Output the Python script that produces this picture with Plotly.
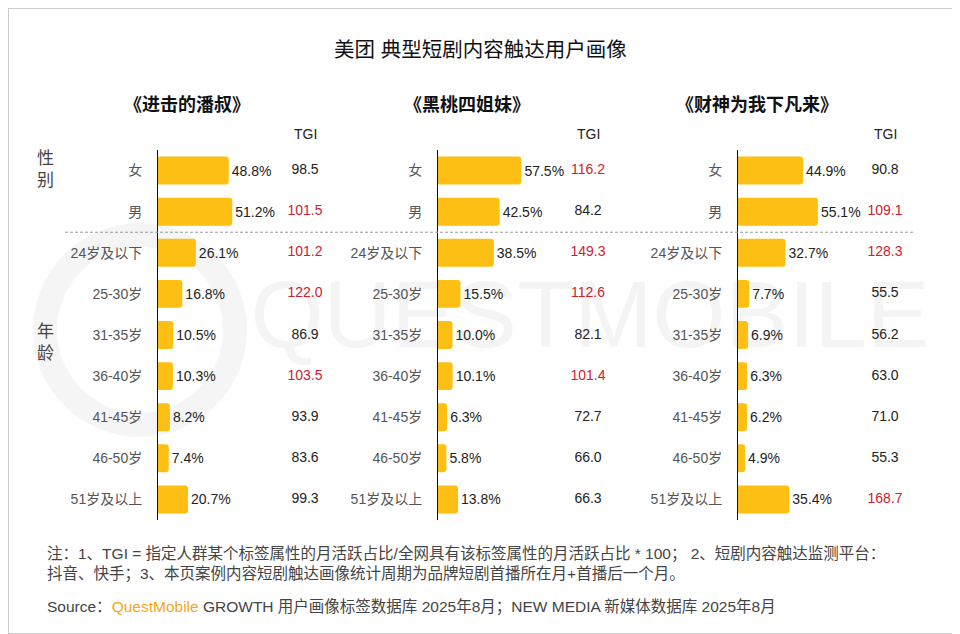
import plotly.graph_objects as go
from plotly.subplots import make_subplots

categories = ['女', '男', '24岁及以下', '25-30岁', '31-35岁', '36-40岁', '41-45岁', '46-50岁', '51岁及以上']
titles = ['《进击的潘叔》', '《黑桃四姐妹》', '《财神为我下凡来》']

pct_1 = [48.8, 51.2, 26.1, 16.8, 10.5, 10.3, 8.2, 7.4, 20.7]
pct_2 = [57.5, 42.5, 38.5, 15.5, 10.0, 10.1, 6.3, 5.8, 13.8]
pct_3 = [44.9, 55.1, 32.7, 7.7, 6.9, 6.3, 6.2, 4.9, 35.4]

tgi_1 = [98.5, 101.5, 101.2, 122.0, 86.9, 103.5, 93.9, 83.6, 99.3]
tgi_2 = [116.2, 84.2, 149.3, 112.6, 82.1, 101.4, 72.7, 66.0, 66.3]
tgi_3 = [90.8, 109.1, 128.3, 55.5, 56.2, 63.0, 71.0, 55.3, 168.7]

FONT = 'Liberation Sans, Noto Sans CJK SC'

# page body has an 8px margin, so the figure is shrunk by that and
# all positions below are given in window pixels and converted
OFF = 8
W, H = 960 - OFF, 634 - OFF


def fx(px):
    return (px - OFF) / W


def fy(py):
    return 1 - (py - OFF) / H


# panel geometry (window pixels)
axis_px = [158, 438, 738]
tgi_px = [305, 588, 885]
title_px = [187, 467, 757]
panel_w = 172
scale = 1.45  # px per percent
xmax = panel_w / scale

fig = make_subplots(rows=1, cols=3, horizontal_spacing=0.05)

for i, (pct, tgi) in enumerate([(pct_1, tgi_1), (pct_2, tgi_2), (pct_3, tgi_3)]):
    col = i + 1
    fig.add_trace(go.Bar(
        x=pct, y=categories, orientation='h',
        marker=dict(color='#FDBF14', line=dict(width=0)),
        text=[f'{v:.1f}%' for v in pct], textposition='outside',
        textfont=dict(size=14, color='#222222', family=FONT),
        cliponaxis=False, width=0.68, showlegend=False,
    ), row=1, col=col)
    tx = (tgi_px[i] - axis_px[i]) / scale
    fig.add_trace(go.Scatter(
        x=[tx] * len(categories), y=categories, mode='text',
        text=[f'{v:.1f}' for v in tgi],
        textfont=dict(size=14, family=FONT,
                      color=['#D0202E' if v > 100 else '#222222' for v in tgi]),
        cliponaxis=False, showlegend=False, hoverinfo='skip',
    ), row=1, col=col)

    xa = 'xaxis' if col == 1 else f'xaxis{col}'
    ya = 'yaxis' if col == 1 else f'yaxis{col}'
    fig.layout[xa].update(domain=[fx(axis_px[i]), fx(axis_px[i] + panel_w)], range=[0, xmax],
                          visible=False, fixedrange=True)
    fig.layout[ya].update(domain=[fy(520), fy(150)], categoryorder='array',
                          categoryarray=categories, autorange='reversed',
                          showline=True, linecolor='#111111', linewidth=1,
                          showgrid=False, zeroline=False, ticks='',
                          ticklabelstandoff=12,
                          tickfont=dict(size=14, color='#555555', family=FONT))

    fig.add_annotation(x=fx(title_px[i]), y=fy(105), xref='paper', yref='paper',
                       text=f'<b>{titles[i]}</b>', showarrow=False,
                       xanchor='center', yanchor='middle',
                       font=dict(size=18, color='#111111', family=FONT))
    fig.add_annotation(x=fx(tgi_px[i]), y=fy(134), xref='paper', yref='paper', text='TGI',
                       showarrow=False, xanchor='center', yanchor='middle',
                       font=dict(size=14, color='#222222', family=FONT))

# watermark (kept in the shape layer below the bars)
fig.add_shape(type='circle', xref='paper', yref='paper', layer='below',
              x0=fx(45), x1=fx(235), y0=fy(425), y1=fy(235),
              line=dict(color='#F5F5F5', width=24))
fig.add_shape(type='rect', xref='paper', yref='paper', layer='below',
              x0=fx(260), x1=fx(920), y0=fy(345), y1=fy(265),
              line=dict(width=0), fillcolor='rgba(0,0,0,0)',
              label=dict(text='QUESTMOBILE', textposition='middle center',
                         font=dict(size=94, color='#F4F4F4', family='Liberation Sans')))

# separator between gender and age
fig.add_shape(type='line', xref='paper', yref='y', x0=fx(65), x1=fx(913), y0=1.5, y1=1.5,
              line=dict(color='#999999', width=1, dash='3px,2px'))

# border
fig.add_shape(type='rect', xref='paper', yref='paper', x0=0, x1=1, y0=0, y1=1,
              line=dict(color='#CCCCCC', width=2))

fig.add_annotation(x=fx(480), y=fy(50), xref='paper', yref='paper',
                   text='美团 典型短剧内容触达用户画像', showarrow=False,
                   xanchor='center', yanchor='middle',
                   font=dict(size=20.5, color='#111111', family=FONT))
fig.add_annotation(x=fx(45), y=fy(170), xref='paper', yref='paper', text='性<br>别',
                   showarrow=False, xanchor='center', yanchor='middle',
                   font=dict(size=17, color='#444444', family=FONT))
fig.add_annotation(x=fx(45), y=fy(342), xref='paper', yref='paper', text='年<br>龄',
                   showarrow=False, xanchor='center', yanchor='middle',
                   font=dict(size=17, color='#444444', family=FONT))

note = ('注：1、TGI = 指定人群某个标签属性的月活跃占比/全网具有该标签属性的月活跃占比 * 100； 2、短剧内容触达监测平台：<br>'
        '抖音、快手；3、本页案例内容短剧触达画像统计周期为品牌短剧首播所在月+首播后一个月。')
fig.add_annotation(x=fx(45), y=fy(564), xref='paper', yref='paper', text=note,
                   showarrow=False, xanchor='left', yanchor='middle', align='left',
                   font=dict(size=15.5, color='#444444', family=FONT))
fig.add_annotation(x=fx(45), y=fy(607), xref='paper', yref='paper',
                   text='Source：<span style="color:#F5A623">QuestMobile</span> GROWTH 用户画像标签数据库 2025年8月；NEW MEDIA 新媒体数据库 2025年8月',
                   showarrow=False, xanchor='left', yanchor='middle', align='left',
                   font=dict(size=15.5, color='#444444', family=FONT))

fig.update_layout(width=W, height=H, margin=dict(l=0, r=0, t=0, b=0),
                  paper_bgcolor='white', plot_bgcolor='rgba(0,0,0,0)',
                  barcornerradius=3, font=dict(family=FONT))

fig.write_html('out.html')
